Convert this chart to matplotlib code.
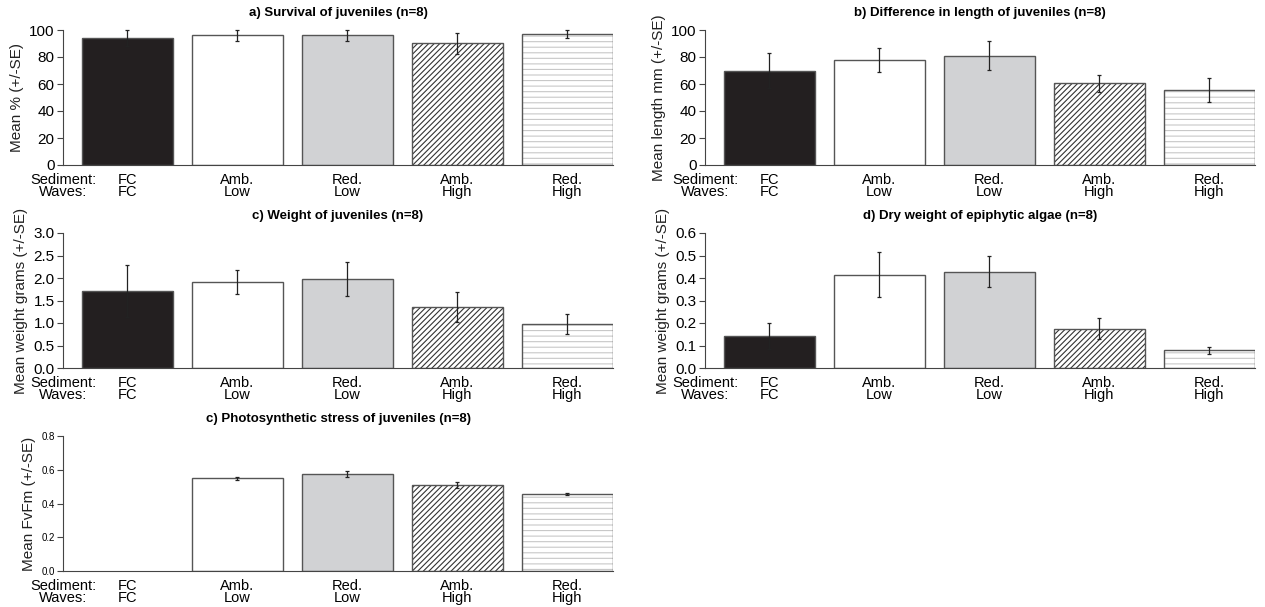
import numpy as np
import matplotlib
matplotlib.use("Agg")
import matplotlib.pyplot as plt
import matplotlib.transforms as mtrans

plt.rcParams['font.family'] = ['Liberation Sans', 'DejaVu Sans']
plt.rcParams['hatch.linewidth'] = 0.8

sediment = ["FC", "Amb.", "Red.", "Amb.", "Red."]
waves = ["FC", "Low", "Low", "High", "High"]

survival = [94, 96, 96, 90, 97]
survival_se = [6, 4, 4, 8, 2.7]

length = [70, 78, 81, 60.5, 55.5]
length_se = [13, 9, 10.5, 6.5, 9]

weight = [1.71, 1.91, 1.98, 1.35, 0.97]
weight_se = [0.58, 0.27, 0.38, 0.33, 0.22]

algae = [0.142, 0.415, 0.428, 0.175, 0.078]
algae_se = [0.056, 0.10, 0.07, 0.047, 0.016]

fvfm = [np.nan, 0.55, 0.575, 0.51, 0.455]
fvfm_se = [np.nan, 0.01, 0.015, 0.02, 0.007]

panels = [
    ("a) Survival of juveniles (n=8)", "Mean % (+/-SE)", survival, survival_se,
     np.arange(0, 101, 20), "%d", 11),
    ("b) Difference in length of juveniles (n=8)", "Mean length mm (+/-SE)", length, length_se,
     np.arange(0, 101, 20), "%d", 11),
    ("c) Weight of juveniles (n=8)", "Mean weight grams (+/-SE)", weight, weight_se,
     np.arange(0, 3.01, 0.5), "%.1f", 11),
    ("d) Dry weight of epiphytic algae (n=8)", "Mean weight grams (+/-SE)", algae, algae_se,
     np.arange(0, 0.61, 0.1), "%.1f", 11),
    ("c) Photosynthetic stress of juveniles (n=8)", "Mean FvFm (+/-SE)", fvfm, fvfm_se,
     np.arange(0, 0.81, 0.2), "%.1f", 7),
]

W, H = 1265, 607
boxes = [
    (63, 30), (705, 30),
    (63, 233), (705, 233),
    (63, 436),
]
aw, ah = 550, 135

edge = "#555555"
fig = plt.figure(figsize=(W / 100, H / 100), dpi=100)

for (title, ylab, vals, se, ticks, fmt, tfs), (px, py) in zip(panels, boxes):
    ax = fig.add_axes([px / W, 1 - (py + ah) / H, aw / W, ah / H])
    x = np.arange(len(vals))
    v = np.array(vals, dtype=float)
    bw = 0.83
    # solid bars
    ax.bar(x[0], v[0], bw, color="#231f20", edgecolor=edge, linewidth=1)
    ax.bar(x[1], v[1], bw, color="white", edgecolor=edge, linewidth=1)
    ax.bar(x[2], v[2], bw, color="#d1d2d4", edgecolor=edge, linewidth=1)
    # hatched bars
    ax.bar(x[3], v[3], bw, color="white", edgecolor="#333333", hatch="//////", linewidth=0)
    ax.bar(x[3], v[3], bw, fill=False, edgecolor=edge, linewidth=1)
    ax.bar(x[4], v[4], bw, color="white", edgecolor="#c8c8c8", hatch="---", linewidth=0)
    ax.bar(x[4], v[4], bw, fill=False, edgecolor=edge, linewidth=1)
    ax.errorbar(x, v, yerr=np.array(se, dtype=float), fmt="none", ecolor="#222222",
                elinewidth=0.9, capsize=1.2, capthick=0.9, clip_on=False, zorder=5)

    ax.set_xlim(-0.586, 4.415)
    ax.set_ylim(ticks[0], ticks[-1])
    ax.set_yticks(ticks)
    ax.set_yticklabels([fmt % t for t in ticks], fontsize=tfs)
    ax.set_xticks([])
    ax.spines["top"].set_visible(False)
    ax.spines["right"].set_visible(False)
    ax.spines["left"].set_color("#444444")
    ax.spines["bottom"].set_color("#444444")
    ax.tick_params(axis="y", length=4, width=0.8, color="#444444", pad=2)
    ax.set_ylabel(ylab, fontsize=11, color="#222222", labelpad=4)
    ax.set_title(title, fontsize=9.5, fontweight="bold", pad=10)

    tr = mtrans.blended_transform_factory(ax.transData, ax.transAxes)
    ax.text(-0.586, -0.06, "Sediment:\nWaves:", transform=tr, ha="center", va="top",
            fontsize=10.5, linespacing=0.8)
    for xi, s, w in zip(x, sediment, waves):
        ax.text(xi, -0.06, s + "\n" + w, transform=tr, ha="center", va="top",
                fontsize=10.5, linespacing=0.8)

fig.savefig("out.png", dpi=100)
